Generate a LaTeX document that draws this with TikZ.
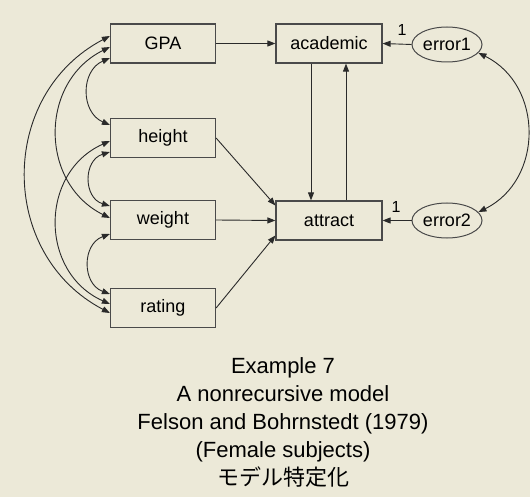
\documentclass[tikz,border=0pt]{standalone}
\usepackage{fontspec}
\setmainfont{Liberation Sans}
\newfontfamily\jpfont{Noto Sans CJK JP}
\usetikzlibrary{arrows.meta,shapes.geometric}
\definecolor{bg}{HTML}{ECE9D8}
\definecolor{ln}{HTML}{2A2A2A}
\begin{document}
\begin{tikzpicture}[x=1pt,y=-1pt,
  var/.style={draw=ln!85, line width=1.2pt, minimum width=105pt, minimum height=39pt, inner sep=0pt, font=\fontsize{18}{20}\selectfont},
  err/.style={ellipse, draw=ln!85, line width=1pt, minimum width=70pt, minimum height=35pt, inner sep=0pt, font=\fontsize{18}{20}\selectfont},
  arr/.style={draw=ln, line width=0.9pt, -{Triangle[length=8pt,width=6pt]}},
  cov/.style={draw=ln, line width=0.9pt, {Triangle[length=8pt,width=6pt]}-{Triangle[length=8pt,width=6pt]}},
  one/.style={font=\fontsize{16}{18}\selectfont, inner sep=0pt},
  capt/.style={anchor=base, font=\fontsize{22}{24}\selectfont, inner sep=0pt}
]
\fill[bg] (0,0) rectangle (530,497);
\useasboundingbox (0,0) rectangle (530,497);

\node[var] (GPA) at (163,43.5) {GPA};
\node[var] (height) at (163,138) {height};
\node[var] (weight) at (163,220) {weight};
\node[var] (rating) at (163,308) {rating};
\node[var, minimum width=106pt] (academic) at (329,43.5) {academic};
\node[var, minimum width=106pt] (attract) at (329,220.5) {attract};
\node[err] (error1) at (447,44.5) {error1};
\node[err] (error2) at (447,220.5) {error2};

% regressions
\draw[arr] (GPA.east) -- (academic.west);
\draw[arr] (height.east) -- ([yshift=15pt]attract.west);
\draw[arr] (weight.east) -- (attract.west);
\draw[arr] (rating.east) -- ([yshift=-15pt]attract.west);
\draw[arr] ([xshift=-18pt]academic.south) -- ([xshift=-18pt]attract.north);
\draw[arr] ([xshift=17pt]attract.north) -- ([xshift=17pt]academic.south);
\draw[arr] (error1.west) -- node[one, pos=0.33, yshift=14pt] (l1) {1} (academic.east);
\draw[arr] (error2.west) -- node[one, pos=0.53, yshift=14pt] (l2) {1} (attract.east);

% covariances
\draw[cov] ([yshift=7.5pt]GPA.west) .. controls +(-112,58.6) and +(-112,-58.6) .. ([yshift=-5pt]rating.west);
\draw[cov] ([yshift=-3.5pt]GPA.west) .. controls +(-70.7,35) and +(-70.7,-35) .. ([yshift=2pt]weight.west);
\draw[cov] ([yshift=-14.5pt]GPA.west) .. controls +(-29.4,12.7) and +(-29.4,-12.7) .. ([yshift=13pt]height.west);
\draw[cov] ([yshift=-3pt]height.west) .. controls +(-70.7,31.5) and +(-70.7,-31.5) .. ([yshift=4pt]rating.west);
\draw[cov] ([yshift=-14pt]height.west) .. controls +(-26.7,8.2) and +(-26.7,-8.2) .. ([yshift=14pt]weight.west);
\draw[cov] ([yshift=-14pt]weight.west) .. controls +(-28,10.2) and +(-28,-10.2) .. ([yshift=14pt]rating.west);
\draw[cov] (error1.-15) .. controls +(65.3,32.3) and +(65.3,-32.3) .. (error2.15);

% caption
\node[capt] (c1) at (283,373) {Example 7};
\node[capt] (c2) at (283,401) {A nonrecursive model};
\node[capt] (c3) at (283,429) {Felson and Bohrnstedt (1979)};
\node[capt] (c4) at (283,457) {(Female subjects)};
\node[capt] (c5) at (283,485) {\jpfont モデル特定化};
\end{tikzpicture}
\end{document}
